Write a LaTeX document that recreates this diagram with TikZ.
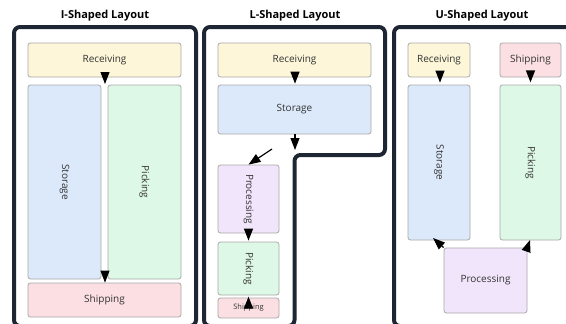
\documentclass[tikz,border=0pt]{standalone}
\usepackage{fontspec}
\setmainfont{Open Sans}
\usetikzlibrary{arrows.meta}
\definecolor{navy}{HTML}{1E2633}
\definecolor{boxgray}{HTML}{A8A8A8}
\definecolor{recv}{HTML}{FDF6D8}
\definecolor{stor}{HTML}{DCE9FB}
\definecolor{pick}{HTML}{DDF8E6}
\definecolor{ship}{HTML}{FBDFE2}
\definecolor{proc}{HTML}{F1E5FB}
\definecolor{txt}{HTML}{333333}
\begin{document}
\begin{tikzpicture}[x=1pt,y=-1pt,
  box/.style={draw=boxgray, line width=0.8pt, rounded corners=2.5pt, inner sep=0pt,
    font=\fontsize{10}{11}\selectfont, text=txt},
  vlab/.style={label={[rotate=-90,font=\fontsize{10}{11}\selectfont,text=txt]center:#1}},
  panel/.style={draw=navy, line width=4pt, rounded corners=6pt},
  title/.style={font=\bfseries\fontsize{11}{13}\selectfont, text=black},
  flow/.style={draw=black, line width=1.2pt, -{Triangle[width=9pt,length=12pt]}},
  ghost/.style={draw=white, line width=1pt, -{Triangle[width=9pt,length=12pt,color=black]}}
]
\useasboundingbox (0,0) rectangle (566,324);
\fill[white] (0,0) rectangle (566,324);

% panels
\draw[panel] (14,326) -- (14,27) -- (196,27) -- (196,326) -- cycle;
\draw[panel] (204,326) -- (204,27) -- (385,27) -- (385,155) -- (294.5,155) -- (294.5,326) -- cycle;
\draw[panel] (394,326) -- (394,27) -- (578,27) -- (578,326) -- cycle;

% titles
\node[title] (ti) at (105,16) {I-Shaped Layout};
\node[title] (tl) at (295,16) {L-Shaped Layout};
\node[title] (tu) at (482,16) {U-Shaped Layout};

% I-shaped
\node[box, fill=recv, minimum width=153pt, minimum height=34pt] (irec) at (104.5,60) {Receiving};
\node[box, fill=stor, minimum width=73pt, minimum height=194pt, vlab=Storage] (isto) at (64.5,182) {};
\node[box, fill=pick, minimum width=73pt, minimum height=194pt, vlab=Picking] (ipic) at (144.5,182) {};
\node[box, fill=ship, minimum width=153pt, minimum height=34pt] (ishp) at (104.5,300) {Shipping};
\coordinate (imid) at (105,84);
\draw[ghost] (irec.south -| imid) -- (imid);
\draw[ghost] (imid) -- (ishp.north -| imid);

% L-shaped
\node[box, fill=recv, minimum width=153pt, minimum height=34pt] (lrec) at (294.5,60) {Receiving};
\node[box, fill=stor, minimum width=153pt, minimum height=49pt] (lsto) at (294.5,109.5) {Storage};
\node[box, fill=proc, minimum width=61pt, minimum height=68pt, vlab=Processing] (lpro) at (248.5,199) {};
\node[box, fill=pick, minimum width=61pt, minimum height=53pt, vlab=Picking] (lpic) at (248.5,268.5) {};
\node[box, fill=ship, minimum width=61pt, minimum height=20pt, font=\fontsize{7.5}{8}\selectfont] (lshp) at (248.5,308) {Shipping};
\coordinate (lturn) at (295,150);
\coordinate (ldiag) at (272,149);
\draw[flow] ([xshift=0.5pt]lrec.south) -- ([xshift=0.5pt,yshift=1pt]lsto.north);
\draw[flow] ([xshift=0.5pt]lsto.south) -- (lturn);
\draw[flow] (ldiag) -- (lpro.north);
\draw[flow] (lpro.south) -- ([yshift=1pt]lpic.north);
\draw[flow] ([yshift=-9pt]lpic.south) -- ([yshift=1pt]lshp.north);

% U-shaped
\node[box, fill=recv, minimum width=62pt, minimum height=34pt] (urec) at (439,60) {Receiving};
\node[box, fill=ship, minimum width=61pt, minimum height=34pt] (ushp) at (530.5,60) {Shipping};
\node[box, fill=stor, minimum width=62pt, minimum height=155pt, vlab=Storage] (usto) at (439,162.5) {};
\node[box, fill=pick, minimum width=61pt, minimum height=155pt, vlab=Picking] (upic) at (530.5,162.5) {};
\node[box, fill=proc, minimum width=83pt, minimum height=65pt] (upro) at (485.5,280.5) {Processing};
\coordinate (ust) at (433,238);
\coordinate (upt) at (530,240);
\draw[flow] ([xshift=1pt,yshift=-2pt]urec.south) -- ([xshift=1pt,yshift=2pt]usto.north);
\draw[flow] ([yshift=5pt]upic.north) -- ([yshift=-5pt]ushp.south);
\draw[flow] (upro.north west) -- (ust);
\draw[flow] (upro.north east) -- (upt);
\end{tikzpicture}
\end{document}
